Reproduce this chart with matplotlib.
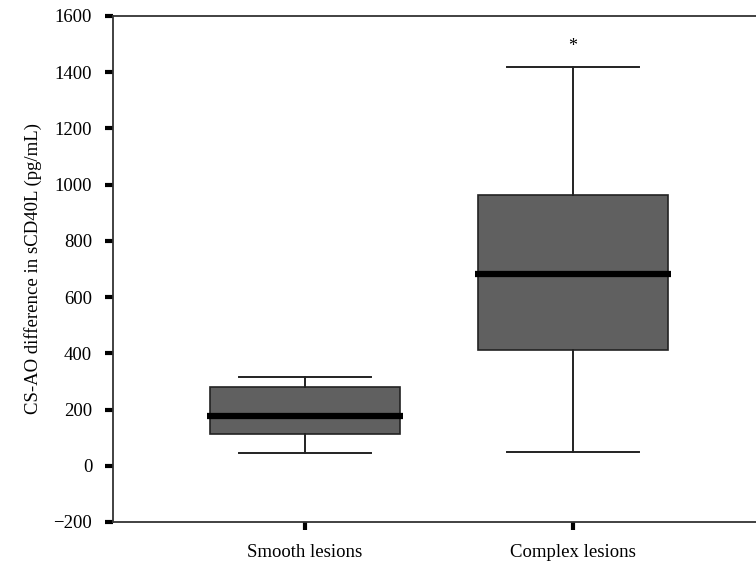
import matplotlib.pyplot as plt

plt.rcParams['font.family'] = ['Liberation Serif', 'DejaVu Serif']

# Box statistics (pg/mL)
groups = ['Smooth lesions', 'Complex lesions']
whisker_low = [44, 49]
q1 = [113, 412]
median = [177, 682]
q3 = [281, 963]
whisker_high = [317, 1420]
yticks = [-200, 0, 200, 400, 600, 800, 1000, 1200, 1400, 1600]

stats = []
for i in range(len(groups)):
    stats.append({'label': groups[i], 'whislo': whisker_low[i], 'q1': q1[i],
                  'med': median[i], 'q3': q3[i], 'whishi': whisker_high[i],
                  'fliers': []})

fig = plt.figure(figsize=(7.56, 5.63), dpi=100)
ax = fig.add_axes([113 / 756, 41 / 563, 1 - 113 / 756, 506 / 563])

bp = ax.bxp(stats, positions=[1, 2], widths=0.71, patch_artist=True,
            boxprops=dict(facecolor='#606060', edgecolor='#222222', linewidth=1.2),
            medianprops=dict(color='black', linewidth=4.5),
            whiskerprops=dict(color='#222222', linewidth=1.4),
            capprops=dict(color='#222222', linewidth=1.4),
            capwidths=0.49)
# median bar slightly wider than the box
for m in bp['medians']:
    xs = m.get_xdata()
    m.set_xdata([xs[0] - 0.012, xs[1] + 0.012])

ax.text(2, 1490, '*', ha='center', va='center', fontsize=13)

ax.set_xlim(0.284, 2.683)
ax.set_ylim(-200, 1600)
ax.set_yticks(yticks)
ax.set_yticklabels(['\u2212200' if t < 0 else str(t) for t in yticks])
ax.set_ylabel('CS-AO difference in sCD40L (pg/mL)', fontsize=13.5, labelpad=8)

ax.spines['right'].set_visible(False)
for s in ['left', 'top', 'bottom']:
    ax.spines[s].set_linewidth(1.3)
    ax.spines[s].set_color('#333333')
ax.tick_params(axis='y', length=6, width=3, labelsize=13.5, pad=9)
ax.tick_params(axis='x', length=6, width=3, labelsize=13.5, pad=10)

fig.savefig('out.png', dpi=100)
